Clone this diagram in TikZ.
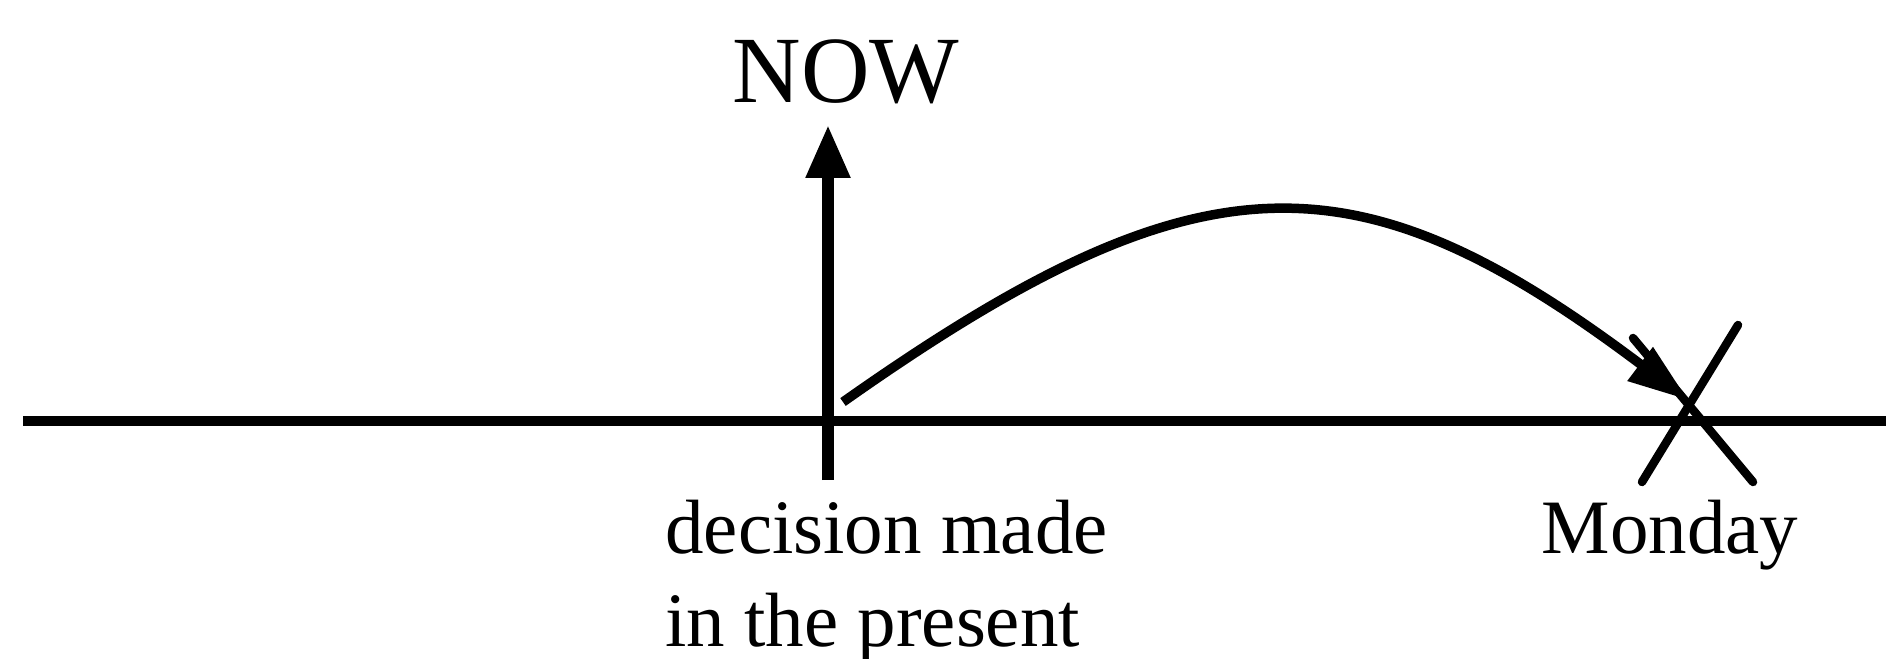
\documentclass[tikz,border=0pt]{standalone}
\usepackage{fontspec}
\setmainfont{Liberation Serif}
\usetikzlibrary{arrows.meta}

\begin{document}
\begin{tikzpicture}[
  x=0.02cm,
  y=-0.02cm,
  every node/.style={inner sep=0pt, black},
  label/.style={font=\fontsize{43.8}{52.9}\selectfont},
  bigword/.style={font=\fontsize{54}{60}\selectfont},
  axis/.style={black, line width=0.2cm},
  riser/.style={black, line width=0.23cm,
                -{Triangle[length=1.06cm, width=0.84cm]}},
  jump/.style={black, line width=0.19cm,
               -{Triangle[length=1.2cm, width=0.8cm]}},
  cross/.style={black, line width=0.17cm, line cap=round}
]
  \useasboundingbox (0,0) rectangle (1886,659);

  % ---- time line --------------------------------------------------------
  \coordinate (start) at (23,421);
  \coordinate (finish) at (1886,421);
  \draw[axis] (start) -- (finish);

  % ---- the present: arrow up to NOW ------------------------------------
  \coordinate (present) at (828,480);
  \coordinate (up) at (828,125);
  \draw[riser] (present) -- (up);
  \node[bigword, anchor=base] (now) at (846,102) {NOW};
  \node[label, anchor=north west, align=left] (decision) at (665,500)
    {decision made\\in the present};

  % ---- Monday, crossed out ---------------------------------------------
  \coordinate (xa) at (1633,338);
  \coordinate (xb) at (1753,482);
  \coordinate (xc) at (1738,325);
  \coordinate (xd) at (1642,482);
  \draw[cross] (xa) -- (xb);
  \draw[cross] (xc) -- (xd);
  \node[label, anchor=base] (monday) at (1670,553) {Monday};

  % ---- the jump from the present to Monday -----------------------------
  \coordinate (leave) at (843,402);
  \coordinate (land) at (1688,400);
  \draw[jump] (leave) .. controls (1200,150) and (1356,150) .. (land);
\end{tikzpicture}
\end{document}
